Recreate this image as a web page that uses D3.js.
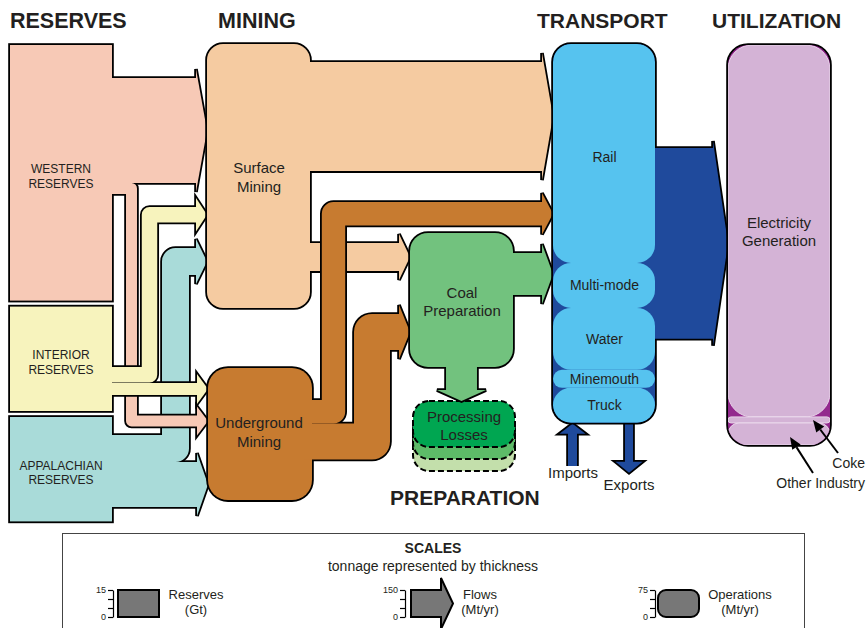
<!DOCTYPE html>
<html>
<head>
<meta charset="utf-8">
<script src="https://cdn.jsdelivr.net/npm/d3@7"></script>
<style>
body { margin: 0; background: #fff; }
svg { display: block; font-family: "Liberation Sans", Arial, Helvetica, sans-serif; }
</style>
</head>
<body>
<script>
// reserves (Gt)
var reserveNames = ["western", "interior", "appalachian"];
var reserveLabels = [["WESTERN", "RESERVES"], ["INTERIOR", "RESERVES"], ["APPALACHIAN", "RESERVES"]];
var reserveValues = [142, 58, 58];

// operations (Mt/yr)
var miningValues = [733, 367];          // surface, underground
var prepValue = 372;
var transportModes = ["Rail", "Multi-mode", "Water", "Minemouth", "Truck"];
var transportValues = [608, 125, 172, 50, 97];
var useNames = ["Electricity Generation", "Coke", "Other Industry"];
var useValues = [1033, 17, 61];

// flows (Mt/yr)
var flowSources = ["western", "western", "interior", "interior", "appalachian", "appalachian",
                   "surface", "surface", "underground", "underground", "prep", "prep", "transport"];
var flowTargets = ["surface", "underground", "surface", "underground", "surface", "underground",
                   "transport", "prep", "transport", "prep", "transport", "losses", "utilization"];
var flowValues = [583, 61, 86, 67, 150, 250, 606, 156, 130, 200, 233, 172, 1060];
var importValue = 50;
var exportValue = 45;

// legend
var scaleNames = ["Reserves", "Flows", "Operations"];
var scaleUnits = ["(Gt)", "(Mt/yr)", "(Mt/yr)"];
var scaleMax = [15, 150, 75];

var W = 867, H = 628, OW = 1.8;
var ink = "#231f20";

var reserveScale = d3.scaleLinear().domain([0, 15]).range([0, 27]);
var flowScale = d3.scaleLinear().domain([0, 150]).range([0, 27]);
var opScale = d3.scaleLinear().domain([0, 75]).range([0, 27]);

var svg = d3.select("body").append("svg").attr("width", W).attr("height", H);
var defs = svg.append("defs");

// ---- nodes
var reserveColors = ["#f7c9b6", "#f7f3bd", "#a9dbd9"];
var nodes = {};
var ry = 45;
reserveNames.forEach(function (n, i) {
    var h = reserveScale(reserveValues[i]);
    nodes[n] = {x: 10, y: ry, w: 102, h: h, r: 0, color: reserveColors[i]};
    ry += h + 6;
});
nodes.surface = {x: 207, y: 44, w: 103, h: opScale(miningValues[0]), r: 16, color: "#f5cba1"};
nodes.underground = {x: 208, y: 368, w: 104, h: opScale(miningValues[1]), r: 20, color: "#c77b30"};
nodes.prep = {x: 410, y: 233, w: 103, h: opScale(prepValue), r: 18, color: "#72c27e"};
nodes.transport = {x: 553, y: 44, w: 102, h: opScale(d3.sum(transportValues)), r: 18, color: "#56c3ef", dark: "#1f4a9c", br: 18};
nodes.utilization = {x: 728, y: 45, w: 102, h: opScale(d3.sum(useValues)), r: 20, color: "#d4b3d6", dark: "#93298e", br: 24};
nodes.losses = {x: 413, y: 401, w: 102, h: 46, r: 16};

// ---- flow routing (offsets of the flow's top edge from source / target top)
var flowLayout = [
    {exit: 33, enter: 34},
    {exit: 138, enter: 47.5, legX: 131.5},
    {exit: 60.5, enter: 163, legX: 149.5},
    {exit: 76, enter: 15},
    {exit: 18, enter: 204, legX: 175.5},
    {exit: 45, enter: 94},
    {exit: 18, enter: 18},
    {exit: 199, enter: 10},
    {exit: 32, enter: 158, legX: 333.5},
    {exit: 55.5, enter: 81, legX: 372},
    {exit: 20, enter: 209},
    {dir: "down"},
    {exit: 104, enter: 103, wing: 7, len: 15}
];

var flows = flowValues.map(function (v, i) {
    var f = Object.assign({source: flowSources[i], target: flowTargets[i], value: v,
                           w: flowScale(v), wing: 9, len: 11}, flowLayout[i]);
    var s = nodes[f.source], t = nodes[f.target];
    if (f.dir === "down") {
        var cx = s.x + s.w / 2;
        f.pts = [[cx, s.y + s.h - 8], [cx, t.y - f.len]];
    } else {
        var x0 = s.x + s.w - 8, y0 = s.y + f.exit + f.w / 2;
        var x1 = t.x - f.len, y1 = t.y + f.enter + f.w / 2;
        f.pts = f.legX == null ? [[x0, y1], [x1, y1]] : [[x0, y0], [f.legX, y0], [f.legX, y1], [x1, y1]];
    }
    f.color = s.dark || s.color;
    return f;
});

function unit(a, b) {
    var dx = b[0] - a[0], dy = b[1] - a[1], l = Math.sqrt(dx * dx + dy * dy);
    return [dx / l, dy / l];
}
function shaftPath(f) {
    var p = f.pts.slice(), a = p[p.length - 2], b = p[p.length - 1], d = unit(a, b);
    p[p.length - 1] = [b[0] + d[0] * 0.8, b[1] + d[1] * 0.8];
    return d3.line()(p);
}
function headPath(f) {
    var p = f.pts, a = p[p.length - 2], b = p[p.length - 1], d = unit(a, b), n = [-d[1], d[0]];
    var hw = f.w / 2 + f.wing;
    return d3.line()([[b[0] + n[0] * hw, b[1] + n[1] * hw],
                      [b[0] + d[0] * f.len, b[1] + d[1] * f.len],
                      [b[0] - n[0] * hw, b[1] - n[1] * hw]]) + "Z";
}
function nodeRect(g, n) {
    return g.append("rect").attr("x", n.x).attr("y", n.y).attr("width", n.w).attr("height", n.h)
            .attr("rx", n.r).attr("ry", n.r);
}

function drawFlowOutline(g, f) {
    g.append("path").attr("d", shaftPath(f)).attr("fill", "none").attr("stroke", "#000")
     .attr("stroke-width", f.w + OW * 2).attr("stroke-linejoin", "round");
    g.append("path").attr("d", headPath(f)).attr("fill", "#000").attr("stroke", "#000")
     .attr("stroke-width", OW * 2).attr("stroke-linejoin", "miter");
}
function drawFlowFill(g, f) {
    g.append("path").attr("d", shaftPath(f)).attr("fill", "none").attr("stroke", f.color)
     .attr("stroke-width", f.w).attr("stroke-linejoin", "round");
    g.append("path").attr("d", headPath(f)).attr("fill", f.color);
}

function drawGroup(name, extra) {
    var n = nodes[name];
    var out = flows.filter(function (f) { return f.source === name; });
    var g = svg.append("g").attr("class", "group " + name);
    var gl = g.append("g"), gf = g.append("g");
    nodeRect(gl, n).attr("fill", "none").attr("stroke", "#000").attr("stroke-width", OW * 2);
    out.forEach(function (f) { drawFlowOutline(gl, f); });
    nodeRect(gf, n).attr("fill", n.dark || n.color);
    out.forEach(function (f) { drawFlowFill(gf, f); });
    if (extra) extra(gf, n);
}

// node split into rounded sub-bands; the dark node colour shows in the cusps
function bubbles(g, n, names, values, name) {
    defs.append("clipPath").attr("id", "clip-" + name).call(function (c) { nodeRect(c, n); });
    var bg = g.append("g").attr("clip-path", "url(#clip-" + name + ")");
    var y = n.y, out = [];
    values.forEach(function (v, i) {
        var h = opScale(v), r = Math.min(h / 2, n.br);
        bg.append("rect").attr("x", n.x).attr("y", y).attr("width", n.w).attr("height", h)
          .attr("rx", r).attr("ry", r).attr("fill", n.color)
          .attr("stroke", name === "utilization" ? "#eddcee" : "none").attr("stroke-width", 0.9);
        out.push({name: names[i], y: y, h: h});
        y += h;
    });
    n.bands = out;
}

drawGroup("appalachian");
drawGroup("western");
drawGroup("interior");
drawGroup("surface");
drawGroup("underground");

// processing losses stack
var lossColors = ["#c3dfab", "#5dbb68", "#00a651"];
lossColors.forEach(function (c, i) {
    var off = (lossColors.length - 1 - i) * 12;
    svg.append("rect").attr("x", nodes.losses.x).attr("y", nodes.losses.y + off)
       .attr("width", nodes.losses.w).attr("height", nodes.losses.h).attr("rx", 16).attr("ry", 16)
       .attr("fill", c).attr("stroke", "#000").attr("stroke-width", 2).attr("stroke-dasharray", "6,3");
});

drawGroup("prep");

// imports / exports
var tn = nodes.transport;
var tBottom = tn.y + tn.h;
var trade = [
    {w: flowScale(importValue), wing: 8.5, len: 10, color: tn.dark,
     pts: [[572.5, 466], [572.5, tBottom + 11]]},
    {w: flowScale(exportValue), wing: 9.5, len: 11, color: tn.dark,
     pts: [[629, tBottom - 4], [629, tBottom + 39]]}
];
trade.forEach(function (f) { drawFlowOutline(svg, f); });
trade.forEach(function (f) { drawFlowFill(svg, f); });

drawGroup("transport", function (g, n) { bubbles(g, n, transportModes, transportValues, "transport"); });
drawGroup("utilization", function (g, n) { bubbles(g, n, useNames, useValues, "utilization"); });

// ---- labels
function label(x, y, lines, size, lh, weight, anchor) {
    var t = svg.append("text").attr("x", x).attr("y", y).attr("font-size", size)
               .attr("font-weight", weight || "normal").attr("fill", ink)
               .attr("text-anchor", anchor || "middle");
    lines.forEach(function (s, i) {
        t.append("tspan").attr("x", x).attr("dy", i === 0 ? 0 : lh).text(s);
    });
    return t;
}

reserveNames.forEach(function (n, i) {
    var nd = nodes[n];
    label(nd.x + nd.w / 2, nd.y + nd.h / 2 + 0.5, reserveLabels[i], 12, 14.5);
});
label(259, 173, ["Surface", "Mining"], 15, 19);
label(259, 428, ["Underground", "Mining"], 15, 19);
label(462, 298, ["Coal", "Preparation"], 15, 17.5);
label(464, 422, ["Processing", "Losses"], 15, 17.5);
nodes.transport.bands.forEach(function (b) {
    label(tn.x + tn.w / 2 + 0.5, b.y + b.h / 2 + 5 + (b.name === "Rail" ? 4 : 0), [b.name], 14, 0);
});
var un = nodes.utilization;
label(un.x + un.w / 2, 228, ["Electricity", "Generation"], 15, 18);
label(573, 478, ["Imports"], 15, 0);
label(629, 490, ["Exports"], 15, 0);

// callouts for thin utilization bands
var callouts = [
    {band: un.bands[1], tipX: 813, dy: 0, tail: [838, 453], textY: 468},
    {band: un.bands[2], tipX: 790, dy: 3, tail: [813, 473], textY: 488}
];
callouts.forEach(function (c) {
    var tip = [c.tipX, c.band.y + c.band.h / 2 + c.dy];
    var d = unit(c.tail, tip), n = [-d[1], d[0]], hl = 12, hw = 5;
    var base = [tip[0] - d[0] * hl, tip[1] - d[1] * hl];
    svg.append("line").attr("x1", c.tail[0]).attr("y1", c.tail[1]).attr("x2", base[0]).attr("y2", base[1])
       .attr("stroke", "#000").attr("stroke-width", 2);
    svg.append("path").attr("d", d3.line()([tip, [base[0] + n[0] * hw, base[1] + n[1] * hw],
                                            [base[0] - n[0] * hw, base[1] - n[1] * hw]]) + "Z")
       .attr("fill", "#000");
    label(865, c.textY, [c.band.name], 14, 0, "normal", "end");
});

// section titles
label(10, 28, ["RESERVES"], 21.5, 0, "bold", "start");
label(218, 28, ["MINING"], 21.5, 0, "bold", "start");
label(537, 28, ["TRANSPORT"], 21, 0, "bold", "start");
label(712, 28, ["UTILIZATION"], 21, 0, "bold", "start");
label(390, 505, ["PREPARATION"], 21, 0, "bold", "start");

// ---- legend
var lg = svg.append("g");
lg.append("rect").attr("x", 62.5).attr("y", 533.5).attr("width", 742).attr("height", 110)
  .attr("fill", "none").attr("stroke", "#444").attr("stroke-width", 1);
label(433, 553, ["SCALES"], 14, 0, "bold");
label(433, 571, ["tonnage represented by thickness"], 14, 0);

var legendScales = [reserveScale, flowScale, opScale];
var legendAxisX = [113, 405, 655];
var legendBoxX = [118, 411, 658];
var legendTextX = [196, 480, 740];
var base0 = 617;
scaleNames.forEach(function (name, i) {
    var sc = legendScales[i], mx = scaleMax[i], h = sc(mx), top = base0 - h;
    var ax = d3.scaleLinear().domain([0, mx]).range([base0, top]);
    var axisG = lg.append("g").attr("transform", "translate(" + legendAxisX[i] + ",0)")
        .call(d3.axisLeft(ax).tickValues([0, mx / 3, 2 * mx / 3, mx]).tickSize(5).tickSizeOuter(0)
                .tickPadding(2).tickFormat(function (d) { return d === 0 || d === mx ? d : ""; }));
    axisG.selectAll("text").attr("font-size", 9).attr("font-family", null).attr("fill", ink);
    axisG.selectAll("line, path").attr("stroke", "#000").attr("stroke-width", 1.2);
    var x = legendBoxX[i];
    if (i === 1) {
        var sw = 30, wing = 12, len = 12;
        lg.append("path").attr("d", d3.line()([[x, top], [x + sw, top], [x + sw, top - wing],
                [x + sw + len, top + h / 2], [x + sw, base0 + wing], [x + sw, base0], [x, base0]]) + "Z")
          .attr("fill", "#777").attr("stroke", "#000").attr("stroke-width", 2);
    } else {
        lg.append("rect").attr("x", x).attr("y", top).attr("width", 41).attr("height", h)
          .attr("rx", i === 2 ? 8 : 0).attr("fill", "#777").attr("stroke", "#000").attr("stroke-width", 2);
    }
    label(legendTextX[i], 599, [name], 13, 0);
    label(legendTextX[i], 614, [scaleUnits[i]], 13, 0);
});
</script>
</body>
</html>
